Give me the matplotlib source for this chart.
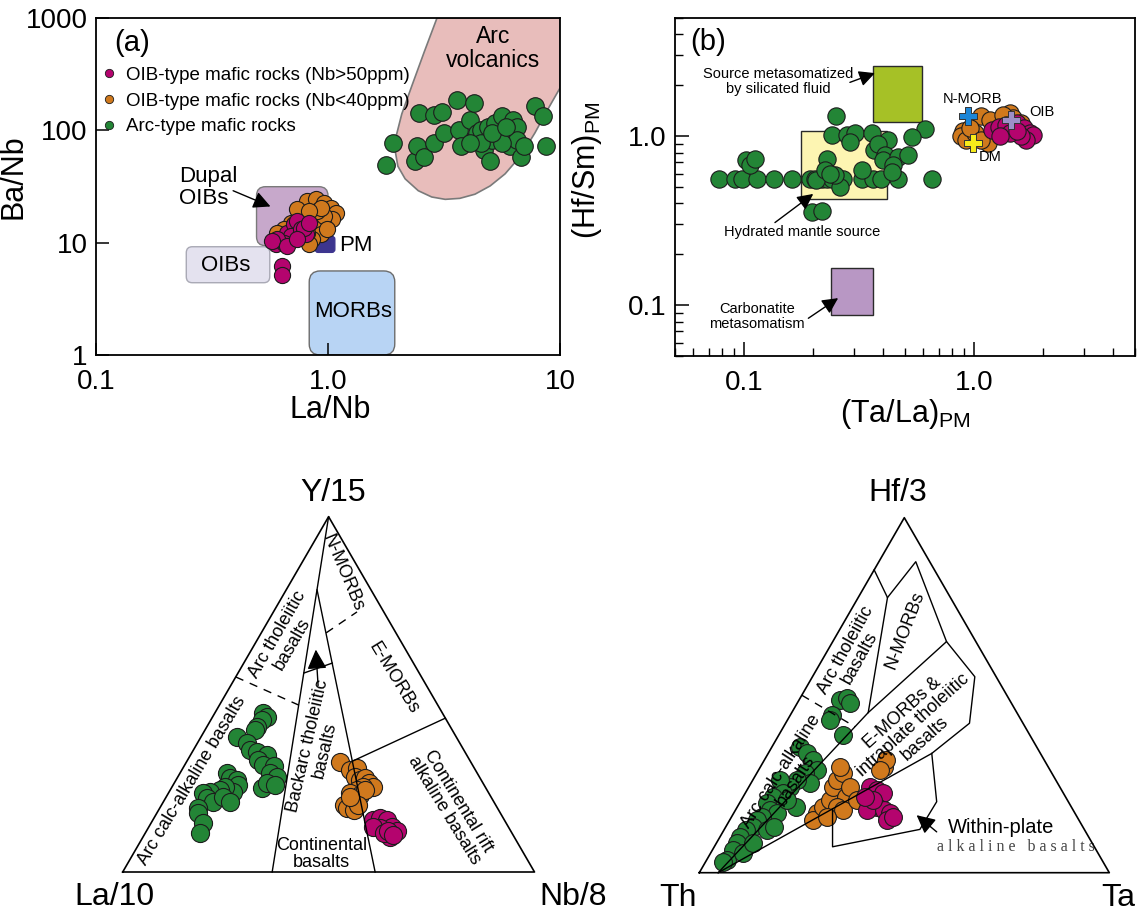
import numpy as np
import matplotlib
matplotlib.use("Agg")
import matplotlib.pyplot as plt
from matplotlib.patches import FancyBboxPatch, Polygon, Rectangle
from matplotlib.ticker import FixedLocator, FixedFormatter, NullLocator, LogLocator, NullFormatter
from matplotlib.lines import Line2D

plt.rcParams['font.family'] = ['Liberation Sans', 'DejaVu Sans']
plt.rcParams['mathtext.fontset'] = 'custom'
plt.rcParams['mathtext.rm'] = 'Liberation Sans'

GREEN = '#238536'
ORANGE = '#d0791d'
MAGENTA = '#b4046e'
EDGE = '#1c1c1c'

# ---------------- Panel (a): La/Nb vs Ba/Nb ----------------
a_arc_lanb = [1.78, 1.90, 2.38, 2.42, 2.46, 2.60, 2.85, 3.11, 2.85, 3.17, 3.60, 3.66, 3.73, 4.08,
              4.24, 4.24, 4.39, 4.55, 4.72, 4.89, 4.98, 5.07, 5.26, 5.65, 5.86, 6.08, 6.30, 6.53,
              6.53, 6.77, 7.02, 7.82, 8.41, 8.72, 5.65, 4.55, 4.08, 5.07, 5.86]
a_arc_banb = [49, 77, 53, 72, 142, 58, 138, 147, 77, 94, 187, 101, 72, 124, 175, 82, 94, 101, 67,
              108, 53, 82, 116, 133, 94, 72, 124, 108, 82, 58, 72, 163, 133, 72, 77, 77, 77, 94, 108]
a_lo_lanb = [0.814, 0.885, 0.962, 1.03, 1.08, 1.045, 0.962, 0.930, 0.856, 0.814, 0.787, 0.842,
             0.737, 0.690, 0.646, 0.604, 0.962, 0.899, 0.993, 0.930, 0.828, 0.828]
a_lo_banb = [23.5, 24.3, 22.7, 20.5, 18.5, 16.1, 14.1, 11.9, 10.7, 12.3, 14.6, 17.3, 19.8, 15.1,
             13.1, 12.3, 17.3, 19.2, 13.1, 20.5, 19.2, 9.66]
a_hi_lanb = [0.594, 0.624, 0.667, 0.713, 0.737, 0.690, 0.762, 0.800, 0.787, 0.646, 0.604, 0.574,
             0.635, 0.635, 0.667, 0.737, 0.828]
a_hi_banb = [9.66, 10.7, 12.3, 14.6, 15.6, 11.5, 13.1, 11.9, 13.6, 10.0, 10.7, 10.35, 6.2, 5.2,
             9.3, 10.7, 15.1]
# reference fields (La/Nb, Ba/Nb)
arc_field_lanb = [2.95, 2.60, 2.30, 2.08, 1.97, 1.95, 2.00, 2.15, 2.45, 2.80, 3.2, 3.7, 4.3, 5.0,
                  5.8, 6.8, 7.8, 8.8, 10, 10]
arc_field_banb = [1000, 500, 250, 140, 90, 65, 48, 37, 29, 25.5, 24.3, 24.8, 27, 32, 41, 60, 95,
                  150, 238, 1000]
dupal_box = (0.492, 1.0, 9.4, 31.5)
oib_box = (0.245, 0.561, 4.4, 9.2)
morb_box = (0.83, 1.94, 1.0, 5.6)
pm_box = (0.88, 1.07, 8.2, 11.4)

# ---------------- Panel (b): (Ta/La)PM vs (Hf/Sm)PM ----------------
b_arc_tala = [0.078, 0.091, 0.098, 0.114, 0.135, 0.162, 0.193, 0.204, 0.217, 0.228, 0.240, 0.269,
              0.326, 0.364, 0.395, 0.468, 0.652, 0.261, 0.206, 0.102, 0.106, 0.111, 0.228, 0.224,
              0.248, 0.236, 0.240, 0.281, 0.303, 0.358, 0.423, 0.610, 0.534, 0.288, 0.367, 0.383,
              0.409, 0.402, 0.468, 0.513, 0.445, 0.437, 0.250, 0.198, 0.217, 0.324]
b_arc_hfsm = [0.559, 0.559, 0.559, 0.559, 0.559, 0.559, 0.559, 0.559, 0.559, 0.559, 0.559, 0.559,
              0.559, 0.559, 0.559, 0.559, 0.559, 0.499, 0.547, 0.719, 0.671, 0.736, 0.736, 0.627,
              0.585, 0.599, 1.01, 1.01, 1.04, 1.04, 0.946, 1.10, 0.99, 0.925, 0.825, 0.904,
              0.770, 0.719, 0.753, 0.770, 0.671, 0.613, 1.32, 0.354, 0.362, 0.627]
b_lo_tala = [0.891, 0.875, 0.924, 1.07, 1.17, 1.43, 1.48, 1.15, 1.01, 0.958, 1.59, 1.33, 1.07]
b_lo_hfsm = [1.07, 0.995, 0.951, 1.31, 1.25, 1.37, 1.28, 0.909, 1.04, 1.12, 1.20, 1.34, 0.951]
b_hi_tala = [1.19, 1.28, 1.37, 1.53, 1.65, 1.74, 1.80, 1.68, 1.59, 1.43, 1.30, 1.53]
b_hi_hfsm = [1.09, 1.14, 1.17, 1.20, 1.12, 1.04, 1.02, 0.951, 0.995, 1.04, 0.995, 1.07]
ref_names = ['N-MORB', 'DM', 'OIB']
ref_tala = [0.94, 0.99, 1.45]
ref_hfsm = [1.32, 0.909, 1.25]
ref_colors = ['#1b86d8', '#f7ec1b', '#9d8fc9']
fluid_box = (0.364, 0.59, 1.22, 2.59)
hydrated_box = (0.176, 0.416, 0.425, 1.076)
carb_box = (0.238, 0.364, 0.0877, 0.166)

# ---------------- Panel (c): La/10 - Y/15 - Nb/8 (percent) ----------------
c_arc_y = [44.7, 43.7, 42.8, 40.9, 40.0, 38.1, 36.2, 34.3, 33.9, 32.9, 31.5, 30.1, 29.7, 27.8, 26.8,
           23.6, 25.0, 24.5, 27.8, 26.4, 25.9, 24.5, 22.6, 24.0, 23.1, 22.6, 22.1, 20.7, 19.8, 17.9,
           16.5, 13.7, 10.9, 21.2, 19.8]
c_arc_nb = [11.8, 13.1, 12.4, 12.1, 12.1, 8.6, 12.0, 13.7, 15.6, 18.5, 17.2, 19.1, 21.8, 21.9, 24.0,
            22.0, 22.5, 24.7, 11.4, 12.9, 14.7, 15.8, 15.6, 12.8, 12.1, 9.9, 8.5, 10.0, 12.1, 9.4,
            10.1, 12.7, 13.3, 13.8, 16.2]
c_lo_y = [31.1, 28.7, 29.2, 26.8, 25.9, 26.4, 25.0, 24.0, 24.0, 23.1, 22.1, 21.7, 20.3, 18.9, 17.9,
          17.5, 23.1, 18.9, 21.2]
c_lo_nb = [37.2, 40.8, 42.2, 43.0, 44.7, 45.7, 47.2, 48.9, 46.4, 45.3, 44.1, 46.8, 45.9, 44.2, 45.4,
           47.3, 47.3, 47.8, 44.6]
c_hi_y = [14.6, 15.1, 14.6, 12.8, 11.4, 9.9, 12.3, 12.8, 10.9, 11.4, 10.4]
c_hi_nb = [53.5, 54.9, 56.8, 58.9, 60.9, 59.9, 56.3, 54.5, 57.9, 58.8, 60.5]

# ---------------- Panel (d): Th - Hf/3 - Ta (percent) ----------------
d_arc_hf = [48.6, 49.1, 47.7, 44.4, 43.0, 38.8, 35.5, 33.6, 31.7, 28.9, 28.0, 25.2, 26.1, 24.2, 26.1,
            22.4, 21.4, 19.5, 17.7, 16.7, 15.8, 14.8, 13.0, 12.0, 10.1, 8.3, 6.4, 3.6, 3.1, 5.5,
            8.3, 12.0, 13.0, 18.6, 20.5]
d_arc_ta = [10.0, 11.4, 12.9, 10.1, 10.4, 15.7, 6.8, 9.4, 11.9, 14.2, 11.8, 14.4, 10.7, 10.0, 6.6,
            9.3, 7.3, 6.7, 8.4, 10.5, 7.3, 6.6, 6.7, 5.5, 4.9, 5.0, 5.1, 4.9, 4.3, 8.0, 9.0, 10.4,
            11.6, 14.4, 11.1]
d_lo_hf = [16.7, 14.8, 18.6, 20.5, 24.2, 26.1, 28.0, 29.9, 21.4, 24.2, 18.6, 17.7, 20.5, 15.8, 29.9,
           31.7, 28.9]
d_lo_ta = [20.3, 20.4, 20.9, 21.6, 20.6, 20.5, 21.1, 19.4, 25.2, 24.6, 24.2, 26.3, 28.1, 23.2, 30.0,
           29.8, 29.6]
d_hi_hf = [24.2, 23.3, 22.4, 19.5, 18.6, 17.7, 17.7, 16.7, 14.8, 15.8, 20.5, 21.4]
d_hi_ta = [29.5, 31.6, 33.7, 31.9, 34.0, 32.0, 36.1, 38.1, 38.3, 39.4, 32.2, 29.7]

W, H = 1137, 911
fig = plt.figure(figsize=(W / 100, H / 100), dpi=100)


def px_axes(l, t, r, b):
    return fig.add_axes([l / W, 1 - b / H, (r - l) / W, (b - t) / H])


def rbox(ax, box, fc, ec, rpx, lw=1.0, z=1):
    x0, x1, y0, y1 = box
    tr = ax.transData + ax.transAxes.inverted()
    (fx0, fy0), (fx1, fy1) = tr.transform([(x0, y0), (x1, y1)])
    wpx, hpx = ax.bbox.width, ax.bbox.height
    p = FancyBboxPatch((fx0, fy0), fx1 - fx0, fy1 - fy0,
                       boxstyle=f"round,pad=0,rounding_size={rpx / wpx}",
                       mutation_aspect=wpx / hpx, transform=ax.transAxes,
                       fc=fc, ec=ec, lw=lw, zorder=z)
    ax.add_patch(p)


def arrow(ax, tail, head, ms=20, lw=1.0, **kw):
    ax.annotate('', xy=head, xytext=tail,
                arrowprops=dict(arrowstyle='-|>', color='k', lw=lw, mutation_scale=ms,
                                shrinkA=0, shrinkB=0), **kw)


sc_kw = dict(edgecolors=EDGE, linewidths=0.8)

# ======================= (a) =======================
axA = px_axes(96, 18, 560, 355)
axA.set_xscale('log')
axA.set_yscale('log')
axA.set_xlim(0.1, 10)
axA.set_ylim(1, 1000)
axA.add_patch(Polygon(list(zip(arc_field_lanb, arc_field_banb)), closed=True,
                      fc='#e8bdbb', ec='#7a7a7a', lw=1.2, zorder=1))
rbox(axA, dupal_box, '#c7a8cb', '#7a7a7a', 9)
rbox(axA, oib_box, '#e4e2ef', '#a9a9b5', 6)
rbox(axA, morb_box, '#b8d4f4', '#6c6c6c', 11)
rbox(axA, pm_box, '#3d358f', '#3d358f', 3)
axA.scatter(a_arc_lanb, a_arc_banb, s=160, c=GREEN, zorder=3, **sc_kw)
axA.scatter(a_lo_lanb, a_lo_banb, s=135, c=ORANGE, zorder=3, **sc_kw)
axA.scatter(a_hi_lanb, a_hi_banb, s=135, c=MAGENTA, zorder=3, **sc_kw)

axA.xaxis.set_major_locator(FixedLocator([0.1, 1, 10]))
axA.xaxis.set_major_formatter(FixedFormatter(['0.1', '1.0', '10']))
axA.yaxis.set_major_locator(FixedLocator([1, 10, 100, 1000]))
axA.yaxis.set_major_formatter(FixedFormatter(['1', '10', '100', '1000']))
axA.xaxis.set_minor_locator(NullLocator())
axA.yaxis.set_minor_locator(NullLocator())
axA.tick_params(which='major', direction='in', length=9, width=1.1, labelsize=20)
axA.tick_params(axis='x', pad=10)
axA.tick_params(axis='y', pad=6)
for s in axA.spines.values():
    s.set_linewidth(1.3)
axA.set_xlabel('La/Nb', fontsize=22)
axA.set_ylabel('Ba/Nb', fontsize=22)
axA.xaxis.set_label_coords(0.504, -0.118)
axA.yaxis.set_label_coords(-0.145, 0.528)

axA.text(0.077, 0.926, '(a)', transform=axA.transAxes, fontsize=21, ha='center', va='center')
axA.text(5.16, 540, 'Arc\nvolcanics', fontsize=16.5, ha='center', va='center', linespacing=1.05)
axA.text(0.2287, 31.2, 'Dupal\nOIBs', fontsize=16, ha='left', va='center', linespacing=1.05)
arrow(axA, (0.39, 29.0), (0.565, 21.0), ms=26)
axA.text(0.363, 6.2, 'OIBs', fontsize=16, ha='center', va='center')
axA.text(1.285, 2.43, 'MORBs', fontsize=16, ha='center', va='center')
axA.text(1.115, 9.5, 'PM', fontsize=16, ha='left', va='center')

handles = [Line2D([], [], marker='o', ls='', mfc=c, mec=EDGE, ms=6, mew=0.6)
           for c in (MAGENTA, ORANGE, GREEN)]
axA.legend(handles, ['OIB-type mafic rocks (Nb>50ppm)', 'OIB-type mafic rocks (Nb<40ppm)',
                     'Arc-type mafic rocks'],
           loc='upper left', bbox_to_anchor=(0.008, 0.855), frameon=False, fontsize=13.5,
           handlelength=1.0, handletextpad=0.4, borderaxespad=0, borderpad=0, labelspacing=0.45)

# ======================= (b) =======================
axB = px_axes(675, 18, 1135, 356)
axB.set_xscale('log')
axB.set_yscale('log')
axB.set_xlim(0.05, 5)
axB.set_ylim(0.05, 5)
for box, fc in ((fluid_box, '#a6c126'), (hydrated_box, '#fdf5b2'), (carb_box, '#b897c4')):
    x0, x1, y0, y1 = box
    axB.add_patch(Rectangle((x0, y0), x1 - x0, y1 - y0, fc=fc, ec='#2a2a2a', lw=1.0, zorder=1))
axB.scatter(b_arc_tala, b_arc_hfsm, s=155, c=GREEN, zorder=3, **sc_kw)
axB.scatter(b_lo_tala, b_lo_hfsm, s=155, c=ORANGE, zorder=3, **sc_kw)
axB.scatter(b_hi_tala, b_hi_hfsm, s=155, c=MAGENTA, zorder=3, **sc_kw)
for xv, yv, col in zip(ref_tala, ref_hfsm, ref_colors):
    axB.scatter([xv], [yv], marker='P', s=170, c=col, edgecolors='#333333', linewidths=0.7,
                zorder=4)
axB.text(0.98, 1.65, ref_names[0], fontsize=10.5, ha='center', va='center')
axB.text(1.17, 0.756, ref_names[1], fontsize=10.5, ha='center', va='center')
axB.text(1.74, 1.38, ref_names[2], fontsize=10.5, ha='left', va='center')

axB.xaxis.set_major_locator(FixedLocator([0.1, 1.0]))
axB.xaxis.set_major_formatter(FixedFormatter(['0.1', '1.0']))
axB.yaxis.set_major_locator(FixedLocator([0.1, 1.0]))
axB.yaxis.set_major_formatter(FixedFormatter(['0.1', '1.0']))
for axis in (axB.xaxis, axB.yaxis):
    axis.set_minor_locator(LogLocator(base=10, subs=np.arange(2, 10) * 1.0, numticks=20))
    axis.set_minor_formatter(NullFormatter())
axB.tick_params(which='major', direction='in', length=10, width=1.1, labelsize=20)
axB.tick_params(which='minor', direction='in', length=6, width=1.0)
axB.tick_params(axis='x', which='major', pad=10)
axB.tick_params(axis='y', which='major', pad=6)
for s in axB.spines.values():
    s.set_linewidth(1.3)
axB.set_xlabel(r'(Ta/La)$_{\mathregular{PM}}$', fontsize=22)
axB.set_ylabel(r'(Hf/Sm)$_{\mathregular{PM}}$', fontsize=22)
axB.xaxis.set_label_coords(0.5, -0.12)
axB.yaxis.set_label_coords(-0.155, 0.55)
axB.text(0.071, 0.929, '(b)', transform=axB.transAxes, fontsize=21, ha='center', va='center')
axB.text(0.1406, 2.11, 'Source metasomatized\nby silicated fluid', fontsize=10.5,
         ha='center', va='center', linespacing=1.1)
arrow(axB, (0.288, 2.08), (0.370, 2.36), ms=24)
axB.text(0.179, 0.272, 'Hydrated mantle source', fontsize=10.5, ha='center', va='center')
arrow(axB, (0.136, 0.308), (0.1995, 0.455), ms=24)
axB.text(0.114, 0.0856, 'Carbonatite\nmetasomatism', fontsize=10.5, ha='center', va='center',
         linespacing=1.1)
arrow(axB, (0.19, 0.0836), (0.256, 0.110), ms=24)


# ======================= ternaries =======================
def tern(top, right):
    t = np.asarray(top, float) / 100.0
    r = np.asarray(right, float) / 100.0
    return r + t / 2.0, t


def tline(ax, pts, ls='-', lw=1.0, z=5):
    tops = [p[0] for p in pts]
    rights = [p[1] for p in pts]
    x, y = tern(tops, rights)
    ax.plot(x, y, color='k', ls=ls, lw=lw, zorder=z, clip_on=False,
            dashes=(6, 5) if ls == '--' else (None, None))


def tern_axes(l, t, r, b):
    ax = px_axes(l, t, r, b)
    ax.set_xlim(0, 1)
    ax.set_ylim(0, 1)
    ax.axis('off')
    tline(ax, [(0, 0), (0, 100), (100, 0), (0, 0)], lw=1.2)
    return ax


tk = dict(fontsize=13, ha='center', va='center', rotation_mode='anchor', multialignment='center',
          zorder=6, linespacing=1.0)

# ---- (c)
axC = tern_axes(122.7, 516.7, 534.5, 872)
for ys, ns, col in ((c_arc_y, c_arc_nb, GREEN), (c_lo_y, c_lo_nb, ORANGE), (c_hi_y, c_hi_nb, MAGENTA)):
    x, y = tern(ys, ns)
    axC.scatter(x, y, s=170, c=col, zorder=3, clip_on=False, **sc_kw)
tline(axC, [(100, 0), (0, 36.3)])
tline(axC, [(79.4, 7.5), (0, 61.3)])
tline(axC, [(54.9, 0), (47.0, 19.2)], ls='--')
tline(axC, [(67.3, 15.75), (73.2, 20.3)], ls='--')
tline(axC, [(56.0, 16.0), (58.8, 21.5)])
tline(axC, [(31.2, 40.2), (43.3, 56.7)])
ta, tb = tern([52.5, 62.6], [21.2, 15.6])
arrow(axC, (ta[0], tb[0]), (ta[1], tb[1]), ms=30, zorder=6)
axC.text(0.1675, 0.257, 'Arc calc-alkaline basalts', rotation=59, **tk)
axC.text(0.393, 0.655, 'Arc tholeiitic\nbasalts', rotation=60, **tk)
axC.text(0.534, 0.841, 'N-MORBs', rotation=-67, **tk)
axC.text(0.658, 0.545, 'E-MORBs', rotation=-58.5, **tk)
axC.text(0.470, 0.349, 'Backarc tholeiitic\nbasalts', rotation=77, **tk)
axC.text(0.483, 0.051, 'Continental\nbasalts', rotation=0, **tk)
axC.text(0.797, 0.186, 'Continental rift\nalkaline basalts', rotation=-58.5, **tk)
axC.text(0.510, 1.066, 'Y/15', fontsize=23, ha='center', va='center')
axC.text(-0.019, -0.070, 'La/10', fontsize=23, ha='center', va='center')
axC.text(1.094, -0.070, 'Nb/8', fontsize=23, ha='center', va='center')

# ---- (d)
axD = tern_axes(699.3, 517.7, 1109.3, 872.7)
for hs, ts, col in ((d_arc_hf, d_arc_ta, GREEN), (d_lo_hf, d_lo_ta, ORANGE), (d_hi_hf, d_hi_ta, MAGENTA)):
    x, y = tern(hs, ts)
    axD.scatter(x, y, s=165, c=col, zorder=3, clip_on=False, **sc_kw)
P1, P2, P3, P4 = (85.3, 0), (77.5, 7.15), (87.6, 9.0), (65.1, 27.75)
P5, P6, P12, TH0 = (55.2, 39.6), (42.1, 44.85), (45.1, 18.65), (0, 4.6)
Q, P8, P9, P10, P11 = (33.6, 39.9), (20.0, 47.9), (12.2, 47.7), (7.3, 28.85), (18.0, 23.5)
tline(axD, [P1, P2, P12, TH0])
tline(axD, [P2, P3, P4, P12])
tline(axD, [P4, P5, P6, Q, TH0])
tline(axD, [Q, P8, P9, P10, P11])
tline(axD, [(50, 0), (41.1, 17.45)], ls='--')
ta, tb = tern([11.5, 16.2], [52.15, 44.9])
arrow(axD, (ta[0], tb[0]), (ta[1], tb[1]), ms=28, zorder=6)
axD.text(0.374, 0.616, 'Arc tholeiitic\nbasalts', rotation=61, **tk)
axD.text(0.502, 0.684, 'N-MORBs', rotation=69, **tk)
axD.text(0.522, 0.414, 'E-MORBs &\nintraplate tholeiitic\nbasalts', rotation=42, **tk)
axD.text(0.217, 0.273, 'Arc calc-alkaline\nbasalts', rotation=57, **tk)
axD.text(0.736, 0.128, 'Within-plate', fontsize=14.5, ha='center', va='center')
axD.text(0.772, 0.071, 'a l k a l i n e   b a s a l t s', fontsize=11.5, color='#444444',
         family=['Liberation Serif', 'DejaVu Serif'], ha='center', va='center')
axD.text(0.485, 1.069, 'Hf/3', fontsize=23, ha='center', va='center')
axD.text(-0.051, -0.070, 'Th', fontsize=23, ha='center', va='center')
axD.text(1.063, -0.070, 'Ta', fontsize=23, ha='right', va='center')

fig.savefig('out.png', dpi=100)
